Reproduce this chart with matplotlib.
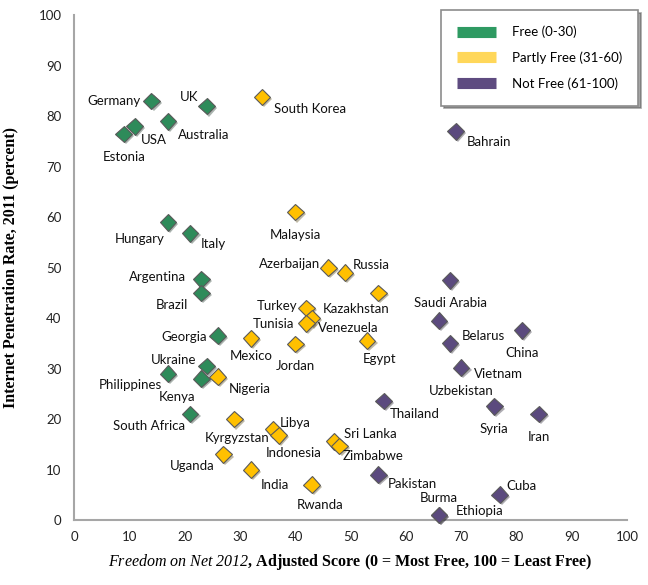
import numpy as np
import matplotlib
matplotlib.use("Agg")
import matplotlib.pyplot as plt
import matplotlib.patheffects as pe
from matplotlib.lines import Line2D

plt.rcParams['font.family'] = ['Lato', 'DejaVu Sans']
plt.rcParams['mathtext.fontset'] = 'custom'
# \mathrm is used for the italic title part so that digits come out italic too
plt.rcParams['mathtext.rm'] = 'Liberation Serif:italic'
plt.rcParams['mathtext.it'] = 'Liberation Serif:italic'

# Freedom on the Net 2012 adjusted score vs internet penetration 2011
free_names = ["Germany", "UK", "Australia", "USA", "Estonia", "Hungary", "Italy",
              "Argentina", "Brazil", "Georgia", "Ukraine", "Philippines", "Kenya",
              "South Africa"]
free_score = [14, 24, 17, 11, 9, 17, 21, 23, 23, 26, 24, 17, 23, 21]
free_net = [83, 82, 79, 78, 76.5, 59, 56.8, 47.7, 45, 36.5, 30.5, 29, 28, 21]

partly_names = ["South Korea", "Malaysia", "Azerbaijan", "Russia", "Kazakhstan",
                "Turkey", "Venezuela", "Tunisia", "Egypt", "Mexico", "Jordan",
                "Nigeria", "Kyrgyzstan", "Libya", "Indonesia", "Sri Lanka",
                "Zimbabwe", "Uganda", "India", "Rwanda"]
partly_score = [34, 40, 46, 49, 55, 42, 43, 42, 53, 32, 40, 26, 29, 36, 37, 47, 48,
                27, 32, 43]
partly_net = [83.8, 61, 50, 49, 45, 42, 40, 39, 35.5, 36, 34.9, 28.4, 20, 18, 16.8,
              15.6, 14.7, 13, 10, 7]

notfree_names = ["Bahrain", "Saudi Arabia", "Belarus", "China", "Vietnam",
                 "Uzbekistan", "Thailand", "Syria", "Iran", "Pakistan", "Cuba",
                 "Burma", "Ethiopia"]
notfree_score = [69, 68, 66, 81, 68, 70, 56, 76, 84, 55, 77, 66, 66]
notfree_net = [77, 47.5, 39.5, 37.6, 35, 30.2, 23.6, 22.5, 21, 9, 5, 1, 1]

groups = ["Free (0-30)", "Partly Free (31-60)", "Not Free (61-100)"]

# label placement, offset in pixels from the marker (dx, dy up)
label_offsets = {
    "Germany": (-37, 0), "UK": (-18, 9), "Australia": (36, -14), "USA": (19, -14),
    "Estonia": (0, -23), "Hungary": (-28, -17), "Italy": (23, -11),
    "Argentina": (-44, 2), "Brazil": (-29, -12), "Georgia": (-34, -1),
    "Ukraine": (-33, 6), "Philippines": (-38, -11), "Kenya": (-24, -18),
    "South Africa": (-41, -12),
    "South Korea": (48, -12), "Malaysia": (0, -23), "Azerbaijan": (-39, 4),
    "Russia": (26, 8), "Kazakhstan": (-22, -16), "Turkey": (-29, 2),
    "Venezuela": (36, -10), "Tunisia": (-33, -1), "Egypt": (12, -18),
    "Mexico": (0, -18), "Jordan": (0, -22), "Nigeria": (32, -12),
    "Kyrgyzstan": (3, -19), "Libya": (22, 6), "Indonesia": (15, -18),
    "Sri Lanka": (36, 7), "Zimbabwe": (34, -10), "Uganda": (-31, -12),
    "India": (24, -15), "Rwanda": (8, -20),
    "Bahrain": (33, -11), "Saudi Arabia": (0, -23), "Belarus": (44, -15),
    "China": (0, -23), "Vietnam": (48, -31), "Uzbekistan": (0, -23),
    "Thailand": (31, -13), "Syria": (0, -23), "Iran": (0, -23),
    "Pakistan": (34, -9), "Cuba": (22, 9), "Burma": (0, 17), "Ethiopia": (41, 4),
}

marker_colors = ["#2E8B5A", "#FFC000", "#5B4A7E"]
legend_colors = ["#2E9A62", "#FFD75A", "#5E4B80"]

fig = plt.figure(figsize=(6.48, 5.85), dpi=100)
ax = fig.add_axes([0.1142, 0.111, 0.8534, 0.863])

shadow = [pe.SimplePatchShadow(offset=(1.5, -1.5), alpha=0.35), pe.Normal()]
series = [(free_names, free_score, free_net),
          (partly_names, partly_score, partly_net),
          (notfree_names, notfree_score, notfree_net)]
for (names, xs, ys), col in zip(series, marker_colors):
    ax.plot(xs, ys, linestyle='none', marker='D', markersize=8.5,
            markerfacecolor=col, markeredgecolor='#5a5a5a', markeredgewidth=0.8,
            path_effects=shadow, zorder=3, clip_on=False)
    for n, x, y in zip(names, xs, ys):
        dx, dy = label_offsets[n]
        ax.annotate(n, (x, y), xytext=(dx, dy), textcoords='offset pixels',
                    ha='center', va='center', fontsize=9.5, color='#111111')

ax.set_xlim(0, 100)
ax.set_ylim(0, 100)
ax.set_xticks(np.arange(0, 101, 10))
ax.set_yticks(np.arange(0, 101, 10))
ax.tick_params(length=0, labelsize=9.5, colors='#222222', pad=8)
ax.tick_params(axis='y', pad=9)
for s in ['top', 'right']:
    ax.spines[s].set_visible(False)
for s in ['left', 'bottom']:
    ax.spines[s].set_color('#A6A6A6')
    ax.spines[s].set_linewidth(1.5)

ax.set_xlabel(r'$\mathrm{Freedom\ on\ Net\ 2012}$, Adjusted Score (0 = Most Free, 100 = Least Free)',
              fontfamily='Liberation Serif', fontweight='bold', fontsize=11.5, labelpad=6)
ax.set_ylabel('Internet Penetration Rate, 2011 (percent)',
              fontfamily='Liberation Serif', fontweight='bold', fontsize=11.5, labelpad=14)

handles = [Line2D([], [], color=c, lw=8, solid_capstyle='butt') for c in legend_colors]
leg = fig.legend(handles, groups, loc='upper right', bbox_to_anchor=(0.985, 0.983),
                 frameon=True, fancybox=False, shadow=True, fontsize=9.5,
                 handlelength=3.0, labelspacing=1.0, borderpad=1.2, handletextpad=1.2,
                 borderaxespad=0)
leg.get_frame().set_edgecolor('#8c8c8c')
leg.get_frame().set_linewidth(1.2)

fig.savefig("out.png", dpi=100)
